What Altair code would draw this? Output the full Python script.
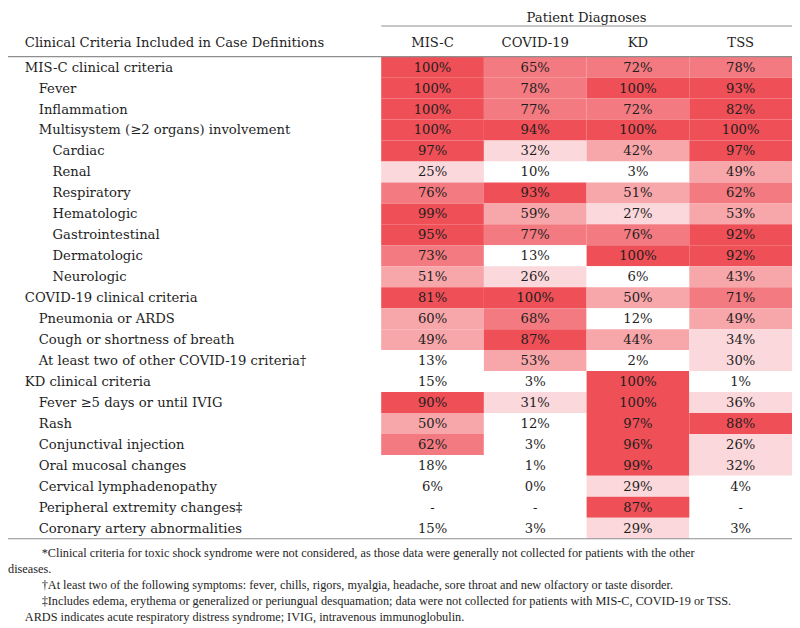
import altair as alt
import pandas as pd

# ---------------- data ----------------
ROW_LABELS = [
    "MIS-C clinical criteria", "Fever", "Inflammation",
    "Multisystem (≥2 organs) involvement", "Cardiac", "Renal", "Respiratory",
    "Hematologic", "Gastrointestinal", "Dermatologic", "Neurologic",
    "COVID-19 clinical criteria", "Pneumonia or ARDS", "Cough or shortness of breath",
    "At least two of other COVID-19 criteria†", "KD clinical criteria",
    "Fever ≥5 days or until IVIG", "Rash", "Conjunctival injection",
    "Oral mucosal changes", "Cervical lymphadenopathy",
    "Peripheral extremity changes‡", "Coronary artery abnormalities",
]
ROW_LEVELS = [0, 1, 1, 1, 2, 2, 2, 2, 2, 2, 2, 0, 1, 1, 1, 0, 1, 1, 1, 1, 1, 1, 1]

COLUMNS = ["MIS-C", "COVID-19", "KD", "TSS"]
MISC = [100, 100, 100, 100, 97, 25, 76, 99, 95, 73, 51, 81, 60, 49, 13, 15, 90, 50, 62, 18, 6, None, 15]
COVID = [65, 78, 77, 94, 32, 10, 93, 59, 77, 13, 26, 100, 68, 87, 53, 3, 31, 12, 3, 1, 0, None, 3]
KD = [72, 100, 72, 100, 42, 3, 51, 27, 76, 100, 6, 50, 12, 44, 2, 100, 100, 97, 96, 99, 29, 87, 29]
TSS = [78, 93, 82, 100, 97, 49, 62, 53, 92, 92, 43, 71, 49, 34, 30, 1, 36, 88, 26, 32, 4, None, 3]

HEADER_LEFT = "Clinical Criteria Included in Case Definitions"
HEADER_GROUP = "Patient Diagnoses"

FOOTNOTES = [
    "*Clinical criteria for toxic shock syndrome were not considered, as those data were generally not collected for patients with the other",
    "diseases.",
    "†At least two of the following symptoms: fever, chills, rigors, myalgia, headache, sore throat and new olfactory or taste disorder.",
    "‡Includes edema, erythema or generalized or periungual desquamation; data were not collected for patients with MIS-C, COVID-19 or TSS.",
    "ARDS indicates acute respiratory distress syndrome; IVIG, intravenous immunoglobulin.",
]
FOOTNOTE_INDENT = [2, 0, 2, 2, 1]

BIN_EDGES = [25, 40, 61, 80]

# ---------------- styles ----------------
FONT = "DejaVu Serif"
FS = 13.3
NOTE_FONT = "Liberation Serif"
NOTE_FS = 12.4
TXT = "#1e1e1e"
COLORS = ["#ffffff", "#fad8db", "#f7a6aa", "#f27a80", "#ef4f56"]
LINE = "#8f8f8f"

records = []
for i in range(len(ROW_LABELS)):
    for col, vals in zip(COLUMNS, [MISC, COVID, KD, TSS]):
        v = vals[i]
        records.append({"row": i, "col": col, "v": v,
                        "txt": "-" if v is None else f"{v}%"})
cells = pd.DataFrame(records)
rows = pd.DataFrame({"row": list(range(len(ROW_LABELS))),
                     "label": ROW_LABELS, "level": ROW_LEVELS})
cols = pd.DataFrame({"col": COLUMNS})
foot = pd.DataFrame({"line": list(range(len(FOOTNOTES))), "t": FOOTNOTES,
                     "indent": FOOTNOTE_INDENT})

xs = alt.Scale(domain=COLUMNS, range=[377, 792], paddingInner=0, paddingOuter=0)
ys = alt.Scale(domain=list(range(len(ROW_LABELS))), range=[46, 533],
               paddingInner=0, paddingOuter=0)

rect = alt.Chart(cells).transform_filter("isValid(datum.v)").mark_rect().encode(
    x=alt.X("col:N", scale=xs, axis=None),
    y=alt.Y("row:O", scale=ys, axis=None),
    color=alt.Color("v:Q", scale=alt.Scale(type="threshold", domain=BIN_EDGES,
                                           range=COLORS), legend=None),
)

vals = alt.Chart(cells).mark_text(font=FONT, fontSize=FS, color=TXT,
                                  baseline="middle", dy=0.5).encode(
    x=alt.X("col:N", scale=xs, axis=None),
    y=alt.Y("row:O", scale=ys, axis=None),
    text="txt:N",
)

labels = alt.Chart(rows).mark_text(font=FONT, fontSize=FS, color=TXT, align="left",
                                   baseline="middle", dy=0.5).encode(
    x=alt.X("level:Q", scale=alt.Scale(domain=[0, 2], range=[17, 45]), axis=None),
    y=alt.Y("row:O", scale=ys, axis=None),
    text="label:N",
)

colhead = alt.Chart(cols).mark_text(font=FONT, fontSize=FS, color=TXT,
                                    baseline="middle").encode(
    x=alt.X("col:N", scale=xs, axis=None),
    y=alt.value(32),
    text="col:N",
)

lefthead = alt.Chart(pd.DataFrame({"t": [HEADER_LEFT]})).mark_text(
    font=FONT, fontSize=FS, color=TXT, align="left", baseline="middle").encode(
    x=alt.value(17), y=alt.value(32), text="t:N")

grouphead = alt.Chart(pd.DataFrame({"t": [HEADER_GROUP]})).mark_text(
    font=FONT, fontSize=FS, color=TXT, align="center", baseline="top").encode(
    x=alt.value(584.5), y=alt.value(0), text="t:N")

one = pd.DataFrame({"k": [0]})
rule_top = alt.Chart(one).mark_rule(color=LINE, strokeWidth=1.2).encode(
    x=alt.value(377), x2=alt.value(792), y=alt.value(15))
rule_mid = alt.Chart(one).mark_rule(color=LINE, strokeWidth=1.2).encode(
    x=alt.value(0), x2=alt.value(792), y=alt.value(46))
rule_bot = alt.Chart(one).mark_rule(color=LINE, strokeWidth=1.2).encode(
    x=alt.value(0), x2=alt.value(792), y=alt.value(533))

notes = alt.Chart(foot).mark_text(font=NOTE_FONT, fontSize=NOTE_FS, color=TXT,
                                  align="left", baseline="middle").encode(
    x=alt.X("indent:Q", scale=alt.Scale(domain=[0, 2], range=[0, 34]), axis=None),
    y=alt.Y("line:O", scale=alt.Scale(domain=list(range(len(FOOTNOTES))),
                                      range=[539, 620], paddingInner=0,
                                      paddingOuter=0), axis=None),
    text="t:N",
)

chart = alt.layer(
    rect, vals, labels, colhead, lefthead, grouphead,
    rule_top, rule_mid, rule_bot, notes,
).resolve_scale(x="independent", y="independent").properties(
    width=792, height=620, padding=0, autosize="none"
).configure_view(stroke=None)

chart.save("out.html", embed_options={"renderer": "svg", "actions": False})
